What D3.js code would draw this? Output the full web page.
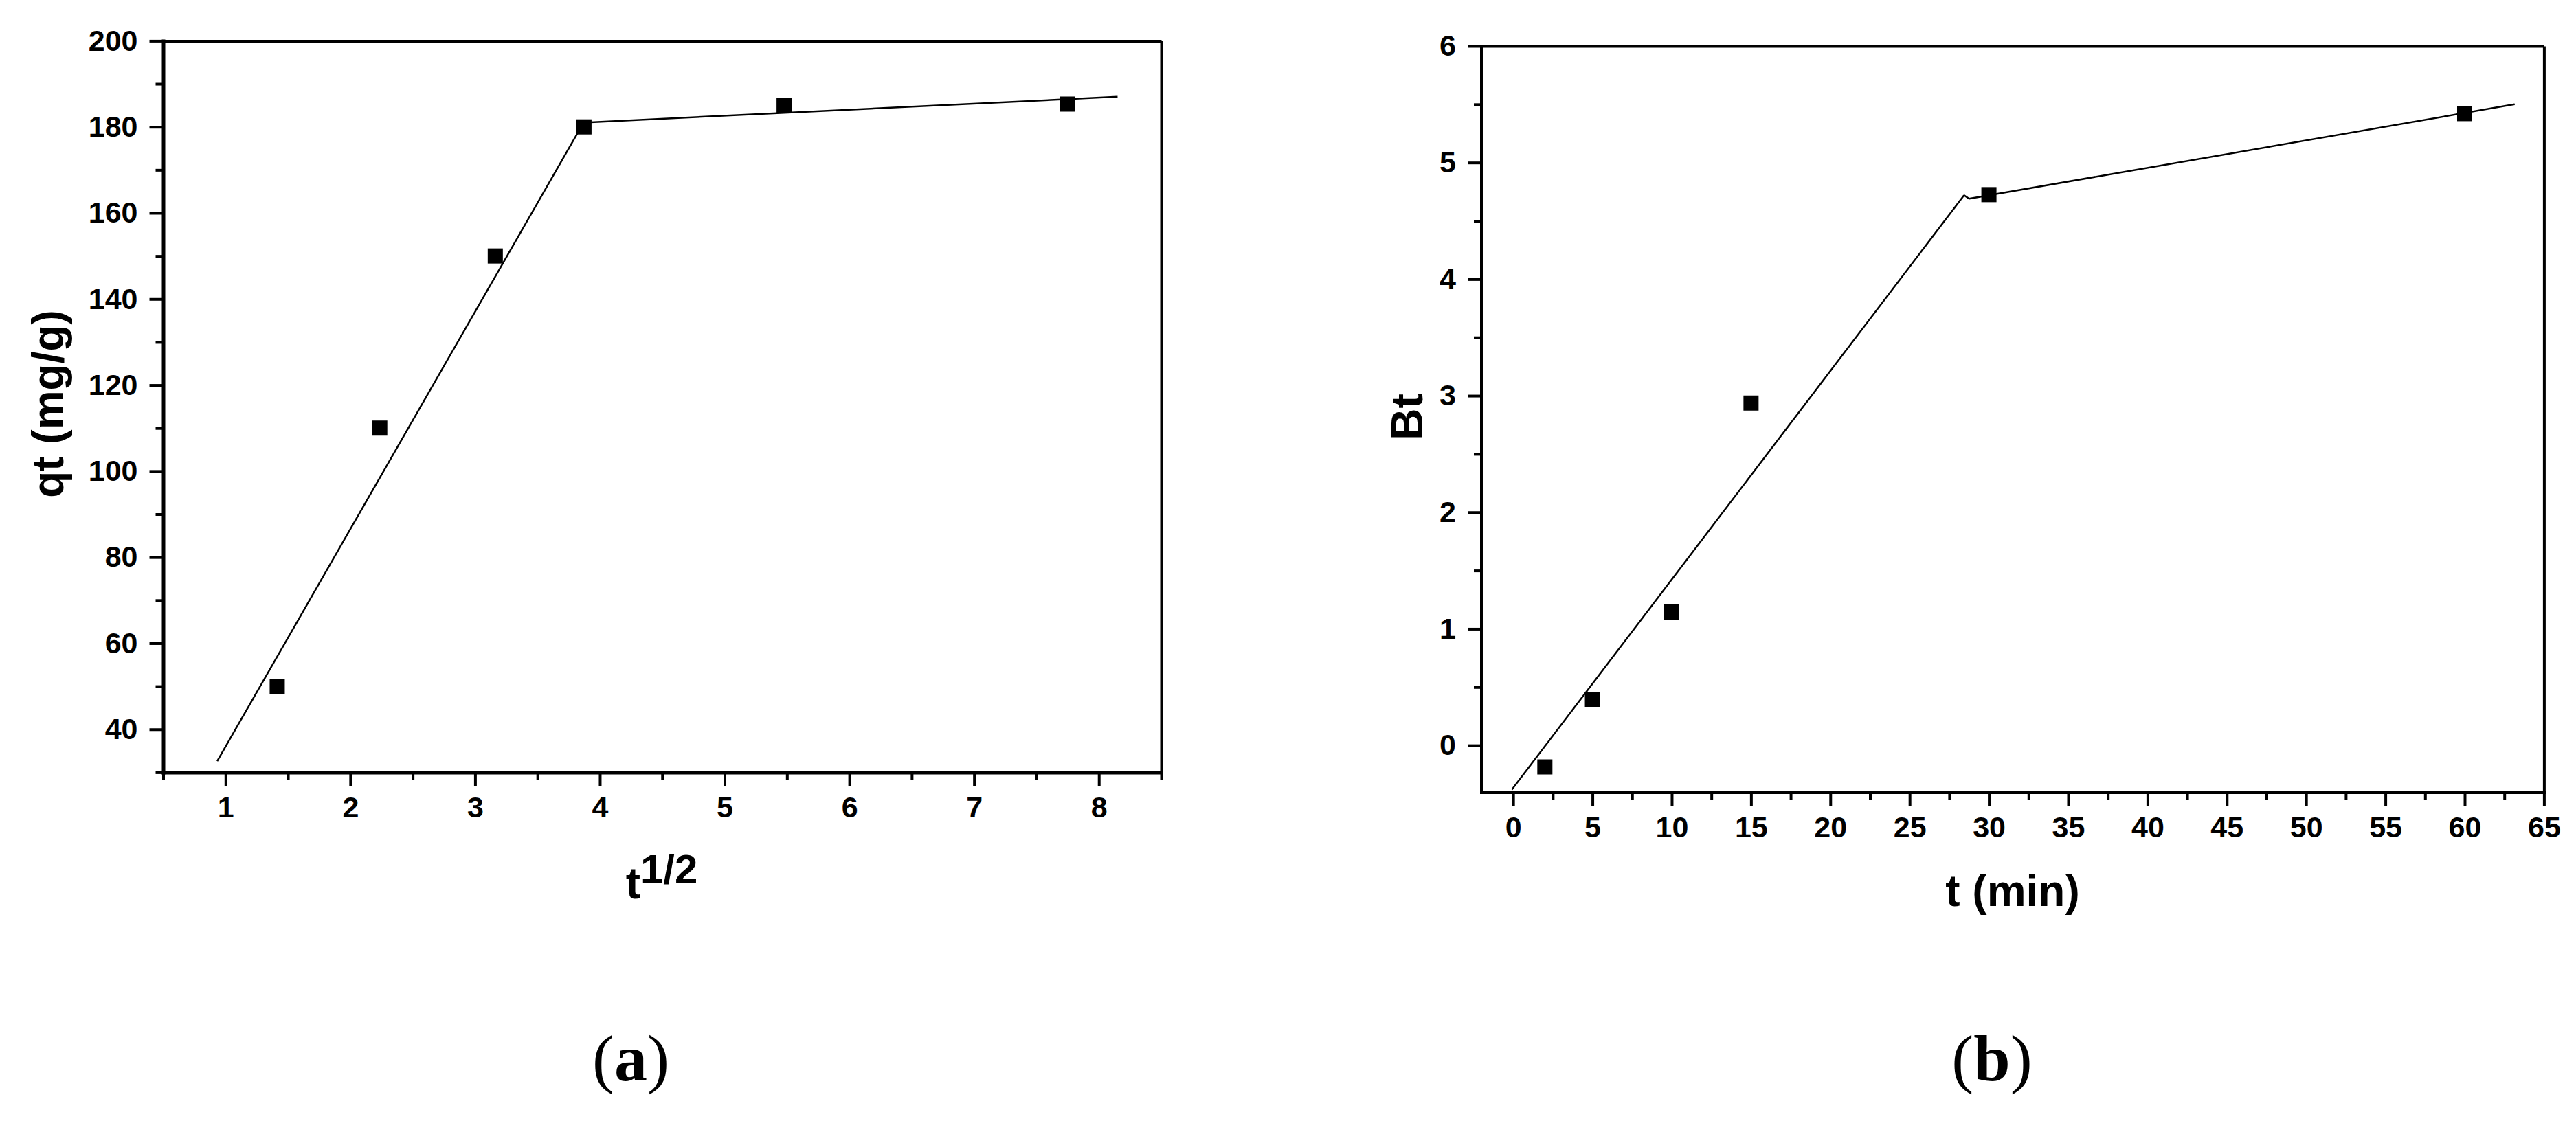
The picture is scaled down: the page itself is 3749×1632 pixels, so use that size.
<!DOCTYPE html>
<html><head><meta charset="utf-8">
<script src="https://cdn.jsdelivr.net/npm/d3@7"></script>
<style>body{margin:0;background:#fff}</style>
</head><body>
<svg id="c" width="3749" height="1632" xmlns="http://www.w3.org/2000/svg"></svg>
<script>
// ---- data: panel (a) intraparticle diffusion ----
const aTime = [1.414, 2.236, 3.162, 3.873, 5.477, 7.746];   // t^1/2
const aQt   = [50, 110, 150, 180, 185.0, 185.3];            // qt (mg/g)
const aFit1 = [[0.933, 32.6], [3.87, 181.0]];
const aFit2 = [[3.87, 181.0], [8.15, 187.0]];
const aXTicks = [1, 2, 3, 4, 5, 6, 7, 8];
const aXMinor = [0.5, 1.5, 2.5, 3.5, 4.5, 5.5, 6.5, 7.5, 8.5];
const aYTicks = [40, 60, 80, 100, 120, 140, 160, 180, 200];
const aYMinor = [30, 50, 70, 90, 110, 130, 150, 170, 190];

// ---- data: panel (b) Boyd plot ----
const bTime = [2, 5, 10, 15, 30, 60];                       // t (min)
const bBt   = [-0.185, 0.394, 1.144, 2.937, 4.725, 5.42];   // Bt
const bFit1 = [[-0.08, -0.38], [28.43, 4.72]];
const bFit2 = [[28.43, 4.72], [28.75, 4.69], [63.15, 5.50]];
const bXTicks = [0, 5, 10, 15, 20, 25, 30, 35, 40, 45, 50, 55, 60, 65];
const bXMinor = [2.5, 7.5, 12.5, 17.5, 22.5, 27.5, 32.5, 37.5, 42.5, 47.5, 52.5, 57.5, 62.5];
const bYTicks = [0, 1, 2, 3, 4, 5, 6];
const bYMinor = [0.5, 1.5, 2.5, 3.5, 4.5, 5.5];

const SANS = "'Liberation Sans', Arial, sans-serif";
const SERIF = "'Liberation Serif', 'Times New Roman', serif";
const svg = d3.select("#c");

function panel(cfg) {
  const x = d3.scaleLinear().domain(cfg.xDom).range([cfg.x0, cfg.x1]);
  const y = d3.scaleLinear().domain(cfg.yDom).range([cfg.y1, cfg.y0]);
  const g = svg.append("g");

  // minor ticks
  g.append("g").attr("transform", `translate(0,${cfg.y1})`)
    .call(d3.axisBottom(x).tickValues(cfg.xMinor).tickSize(11).tickFormat(""))
    .call(s => s.select(".domain").remove())
    .selectAll("line").attr("stroke", "#000").attr("stroke-width", 4);
  g.append("g").attr("transform", `translate(${cfg.x0},0)`)
    .call(d3.axisLeft(y).tickValues(cfg.yMinor).tickSize(11).tickFormat(""))
    .call(s => s.select(".domain").remove())
    .selectAll("line").attr("stroke", "#000").attr("stroke-width", 4);

  // top / right frame
  g.append("g").attr("transform", `translate(0,${cfg.y0})`)
    .call(d3.axisTop(x).tickValues([]).tickSizeOuter(0))
    .select(".domain").attr("stroke", "#000").attr("stroke-width", 4);
  g.append("g").attr("transform", `translate(${cfg.x1},0)`)
    .call(d3.axisRight(y).tickValues([]).tickSizeOuter(0))
    .select(".domain").attr("stroke", "#000").attr("stroke-width", 4);

  // major axes
  const xa = g.append("g").attr("transform", `translate(0,${cfg.y1})`)
    .call(d3.axisBottom(x).tickValues(cfg.xTicks).tickSize(20).tickSizeOuter(0)
      .tickPadding(15.5).tickFormat(d3.format("d")));
  const ya = g.append("g").attr("transform", `translate(${cfg.x0},0)`)
    .call(d3.axisLeft(y).tickValues(cfg.yTicks).tickSize(20).tickSizeOuter(0)
      .tickPadding(17).tickFormat(d3.format("d")));
  [xa, ya].forEach(a => {
    a.select(".domain").attr("stroke", "#000").attr("stroke-width", 5).attr("stroke-linecap", "square");
    a.selectAll(".tick line").attr("stroke", "#000").attr("stroke-width", 4);
    a.selectAll(".tick text").attr("fill", "#000").style("font-family", SANS)
      .style("font-weight", "bold").style("font-size", "43px");
  });

  // fitted lines
  const line = d3.line().x(d => x(d[0])).y(d => y(d[1]));
  [cfg.fit1, cfg.fit2].forEach(f => {
    g.append("path").attr("d", line(f)).attr("fill", "none")
      .attr("stroke", "#000").attr("stroke-width", 2.5).attr("stroke-linejoin", "round");
  });

  // markers
  const pts = cfg.xs.map((v, i) => [v, cfg.ys[i]]);
  g.selectAll("rect.pt").data(pts).enter().append("rect")
    .attr("x", d => x(d[0]) - 11).attr("y", d => y(d[1]) - 11)
    .attr("width", 22).attr("height", 22).attr("fill", "#000");
  return { x, y, g };
}

const pa = panel({ x0: 237.5, x1: 1690, y0: 59.4, y1: 1124.4, xDom: [0.5, 8.5], yDom: [30, 200],
  xTicks: aXTicks, xMinor: aXMinor, yTicks: aYTicks, yMinor: aYMinor,
  xs: aTime, ys: aQt, fit1: aFit1, fit2: aFit2 });
const pb = panel({ x0: 2156, x1: 3702.4, y0: 67, y1: 1153, xDom: [-2, 65], yDom: [-0.4, 6],
  xTicks: bXTicks, xMinor: bXMinor, yTicks: bYTicks, yMinor: bYMinor,
  xs: bTime, ys: bBt, fit1: bFit1, fit2: bFit2 });

// axis titles
const tA = svg.append("text").attr("x", 963).attr("y", 1307.7).attr("text-anchor", "middle")
  .style("font-family", SANS).style("font-weight", "bold").attr("fill", "#000");
tA.append("tspan").text("t").style("font-size", "64px");
tA.append("tspan").text("1/2").attr("dy", -22).style("font-size", "60px");

svg.append("text").attr("transform", "translate(92,588) rotate(-90)").attr("text-anchor", "middle")
  .style("font-family", SANS).style("font-weight", "bold").style("font-size", "64px")
  .attr("fill", "#000").text("qt (mg/g)");

svg.append("text").attr("x", 2929).attr("y", 1319).attr("text-anchor", "middle")
  .style("font-family", SANS).style("font-weight", "bold").style("font-size", "64px")
  .attr("fill", "#000").text("t (min)");

svg.append("text").attr("transform", "translate(2070,607) rotate(-90)").attr("text-anchor", "middle")
  .style("font-family", SANS).style("font-weight", "bold").style("font-size", "64px")
  .attr("fill", "#000").text("Bt");

// panel labels
[["a", 918], ["b", 2899]].forEach(([l, cx]) => {
  const t = svg.append("text").attr("x", cx).attr("y", 1573).attr("text-anchor", "middle")
    .style("font-family", SERIF).style("font-size", "96px").attr("fill", "#000");
  t.append("tspan").text("(");
  t.append("tspan").text(l).style("font-weight", "bold");
  t.append("tspan").text(")");
});
</script></body></html>
